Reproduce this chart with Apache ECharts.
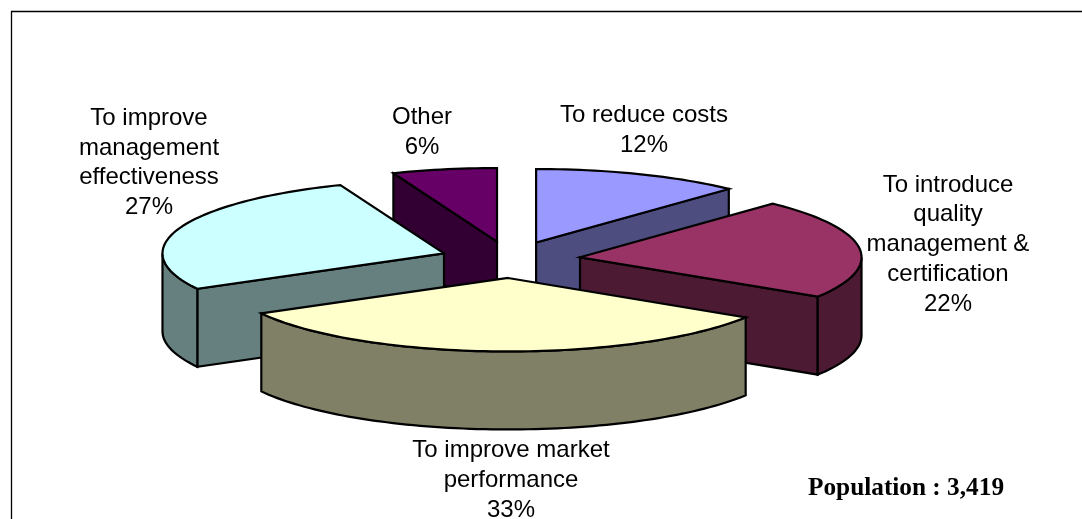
<!DOCTYPE html>
<html>
<head>
<meta charset="utf-8">
<style>html,body{margin:0;padding:0;background:#fff}#c{width:1082px;height:519px}</style>
<script src="https://cdn.jsdelivr.net/npm/echarts@6/dist/echarts.min.js"></script>
</head>
<body>
<div id="c"></div>
<script>
const categories = ['To reduce costs', 'To introduce\nquality\nmanagement &\ncertification', 'To improve market\nperformance', 'To improve\nmanagement\neffectiveness', 'Other'];
const values = [12, 22, 33, 27, 6];
const topColors = ['#9999ff', '#993366', '#ffffcc', '#ccffff', '#660066'];
const sideColors = ['#4d4d80', '#4d1a33', '#808066', '#668080', '#330033'];
const paintOrder = [4, 0, 3, 1, 2];
const labelAnchors = [[644, 130.5], [948, 244.5], [511, 480.5], [149, 163], [422, 132.5]];
const populationNote = 'Population : 3,419';

const CX = 510.2, CY = 259.6, RX = 281.5, RY = 73.5, DEPTH = 78, EXPLODE = 0.25;
const total = values.reduce((a, b) => a + b, 0);
const rad = d => d * Math.PI / 180;
const starts = [];
values.reduce((acc, v, i) => { starts[i] = acc; return acc + v / total * 360; }, 0);

function arc(ax, ay, a0, a1, dy) {
  const pts = [];
  const n = Math.max(2, Math.ceil((a1 - a0) / 1.5));
  for (let k = 0; k <= n; k++) {
    const a = rad(a0 + (a1 - a0) * k / n);
    pts.push([ax + RX * Math.sin(a), ay - RY * Math.cos(a) + dy]);
  }
  return pts;
}

function renderItem(params, api) {
  const i = params.dataIndex;
  const val = api.value(0);
  const a0 = starts[i], a1 = a0 + val / total * 360;
  const mid = rad((a0 + a1) / 2);
  const ax = CX + EXPLODE * RX * Math.sin(mid);
  const ay = CY - EXPLODE * RY * Math.cos(mid);
  const style = { stroke: '#000', lineWidth: 2.2, lineJoin: 'miter' };
  const rank = paintOrder.indexOf(i) * 10 + 1;
  const children = [];
  const poly = (points, fill, z2) => children.push({
    type: 'polygon', z2: z2, shape: { points: points }, style: Object.assign({ fill: fill }, style)
  });
  const cutWall = a => {
    const p = arc(ax, ay, a, a, 0)[0];
    poly([[ax, ay], p, [p[0], p[1] + DEPTH], [ax, ay + DEPTH]], sideColors[i], rank);
  };
  if (Math.sin(rad(a0)) < -1e-6) cutWall(a0);
  if (Math.sin(rad(a1)) > 1e-6) cutWall(a1);
  const w0 = Math.max(a0, 90), w1 = Math.min(a1, 270);
  if (w1 > w0) {
    poly(arc(ax, ay, w0, w1, 0).concat(arc(ax, ay, w0, w1, DEPTH).reverse()), sideColors[i], rank + 1);
  }
  poly([[ax, ay]].concat(arc(ax, ay, a0, a1, 0)), topColors[i], rank + 2);
  children.push({
    type: 'text', z2: 100,
    style: {
      text: categories[i] + '\n' + Math.round(val / total * 100) + '%',
      x: labelAnchors[i][0], y: labelAnchors[i][1],
      align: 'center', verticalAlign: 'middle',
      font: '24px "Liberation Sans", Arial, sans-serif',
      lineHeight: 29.7, fill: '#000'
    }
  });
  return { type: 'group', children: children };
}

const chart = echarts.init(document.getElementById('c'), null, { renderer: 'canvas' });
chart.setOption({
  animation: false,
  backgroundColor: '#fff',
  graphic: [
    { type: 'polyline', silent: true, shape: { points: [[11.5, 519], [11.5, 11.5], [1082, 11.5]] }, style: { stroke: '#000', lineWidth: 1.3, fill: null } },
    { type: 'text', silent: true, x: 906, y: 488, style: { text: populationNote, align: 'center', verticalAlign: 'middle', font: 'bold 25.3px "Liberation Serif", "Times New Roman", serif', fill: '#000' } }
  ],
  series: [{
    type: 'custom',
    coordinateSystem: 'none',
    renderItem: renderItem,
    data: values.map((v, i) => ({ name: categories[i].replace(/\n/g, ' '), value: [v] })),
    silent: true
  }]
});
</script>
</body>
</html>
